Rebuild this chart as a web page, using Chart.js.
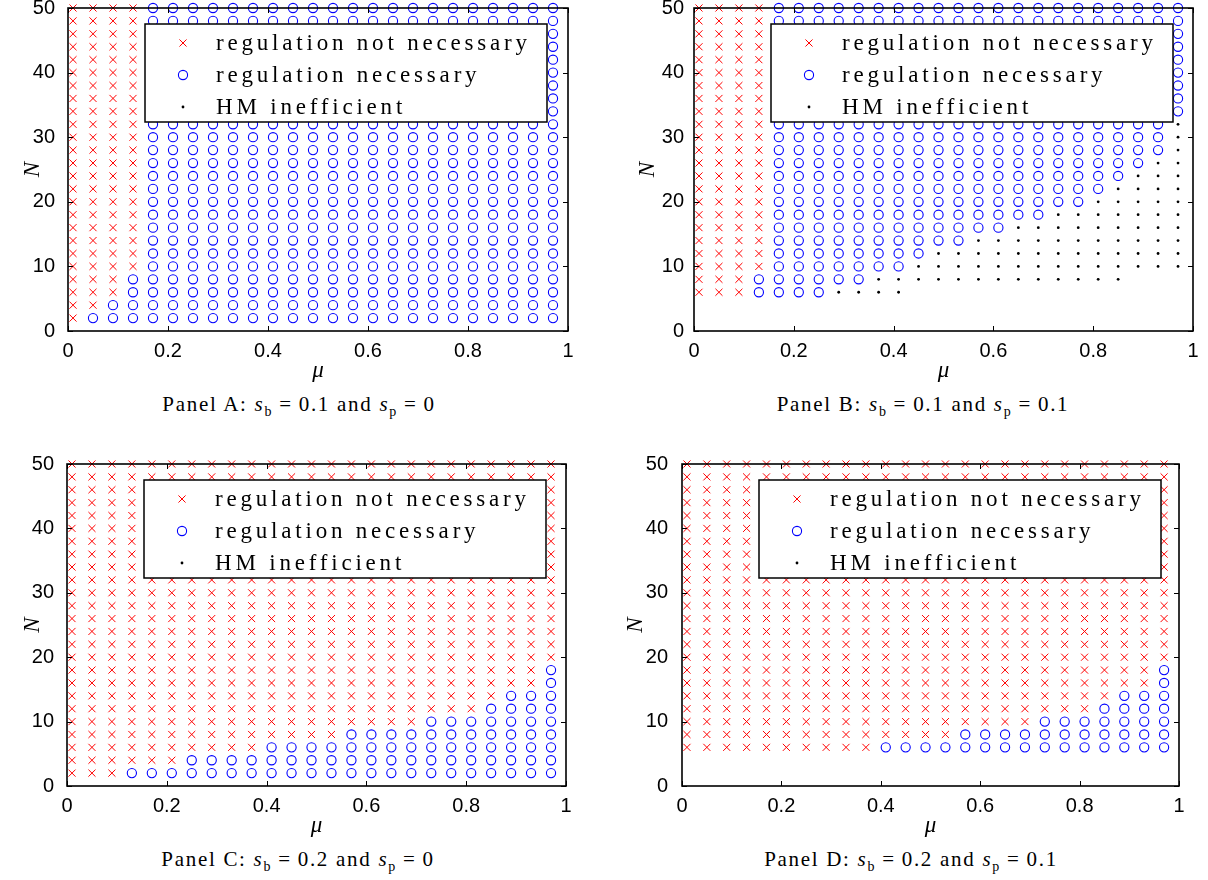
<!DOCTYPE html>
<html>
<head>
<meta charset="utf-8">
<script src="https://cdn.jsdelivr.net/npm/chart.js@4.4.1/dist/chart.umd.min.js"></script>
<style>
  body { margin: 0; background: #fff; width: 1208px; height: 880px; position: relative; overflow: hidden; }
  .panel { position: absolute; }
  .caption { position: absolute; font-family: 'Liberation Serif', serif; font-size: 21px; color: #000;
             transform: translateX(-50%); white-space: nowrap; letter-spacing: 1.7px; line-height: 22px; }
  .caption sub { font-size: 14px; line-height: 0; }
  .caption .eq { margin: 0 6px; }
</style>
</head>
<body>
<div class="panel" id="wrap-a"><canvas id="chart-a"></canvas></div>
<div class="panel" id="wrap-b"><canvas id="chart-b"></canvas></div>
<div class="panel" id="wrap-c"><canvas id="chart-c"></canvas></div>
<div class="panel" id="wrap-d"><canvas id="chart-d"></canvas></div>
<div class="caption" style="left:299px;top:393px">Panel A: <i>s</i><sub>b</sub><span class="eq">=</span>0.1 and <i>s</i><sub>p</sub><span class="eq">=</span>0</div>
<div class="caption" style="left:923px;top:393px">Panel B: <i>s</i><sub>b</sub><span class="eq">=</span>0.1 and <i>s</i><sub>p</sub><span class="eq">=</span>0.1</div>
<div class="caption" style="left:298px;top:848px">Panel C: <i>s</i><sub>b</sub><span class="eq">=</span>0.2 and <i>s</i><sub>p</sub><span class="eq">=</span>0</div>
<div class="caption" style="left:911px;top:848px">Panel D: <i>s</i><sub>b</sub><span class="eq">=</span>0.2 and <i>s</i><sub>p</sub><span class="eq">=</span>0.1</div>
<script>
// grid of mu values (columns) and N runs 2..50 in steps of 2
const MU = [0.01, 0.05, 0.09, 0.13, 0.17, 0.21, 0.25, 0.29, 0.33, 0.37, 0.41, 0.45, 0.49,
            0.53, 0.57, 0.61, 0.65, 0.69, 0.73, 0.77, 0.81, 0.85, 0.89, 0.93, 0.97];
const N_MAX = 50;
const N_STEP = 2;
const X_TICKS = [0, 0.2, 0.4, 0.6, 0.8, 1];
const Y_TICKS = [0, 10, 20, 30, 40, 50];
const LEGEND_LABELS = ['regulation not necessary', 'regulation necessary', 'HM inefficient'];

// per column: lowest N computed, highest N that is HM inefficient, highest N where regulation is necessary
// (everything above the last run up to N_MAX is "regulation not necessary")

// Panel A: s_b = 0.1, s_p = 0
const A_LOW  = [2, 2, 2, 2, 2, 2, 2, 2, 2, 2, 2, 2, 2, 2, 2, 2, 2, 2, 2, 2, 2, 2, 2, 2, 2];
const A_HM   = [0, 0, 0, 0, 0, 0, 0, 0, 0, 0, 0, 0, 0, 0, 0, 0, 0, 0, 0, 0, 0, 0, 0, 0, 0];
const A_REG  = [0, 2, 4, 8, 50, 50, 50, 50, 50, 50, 50, 50, 50, 50, 50, 50, 50, 50, 50, 50, 50, 50, 50, 50, 50];

// Panel B: s_b = 0.1, s_p = 0.1
const B_LOW  = [6, 6, 6, 6, 6, 6, 6, 6, 6, 6, 6, 8, 8, 8, 8, 8, 8, 8, 8, 8, 8, 8, 10, 10, 10];
const B_HM   = [4, 4, 4, 4, 4, 4, 4, 6, 6, 8, 8, 10, 12, 12, 14, 14, 16, 16, 18, 18, 20, 22, 24, 26, 32];
const B_REG  = [4, 4, 4, 8, 50, 50, 50, 50, 50, 50, 50, 50, 50, 50, 50, 50, 50, 50, 50, 50, 50, 50, 50, 50, 50];

// Panel C: s_b = 0.2, s_p = 0
const C_LOW  = [2, 2, 2, 2, 2, 2, 2, 2, 2, 2, 2, 2, 2, 2, 2, 2, 2, 2, 2, 2, 2, 2, 2, 2, 2];
const C_HM   = [0, 0, 0, 0, 0, 0, 0, 0, 0, 0, 0, 0, 0, 0, 0, 0, 0, 0, 0, 0, 0, 0, 0, 0, 0];
const C_REG  = [0, 0, 0, 2, 2, 2, 4, 4, 4, 4, 6, 6, 6, 6, 8, 8, 8, 8, 10, 10, 10, 12, 14, 14, 18];

// Panel D: s_b = 0.2, s_p = 0.1
const D_LOW  = [6, 6, 6, 6, 6, 6, 6, 6, 6, 6, 6, 6, 6, 6, 6, 6, 6, 6, 6, 6, 6, 6, 6, 6, 6];
const D_HM   = [4, 4, 4, 4, 4, 4, 4, 4, 4, 4, 4, 4, 4, 4, 4, 4, 4, 4, 4, 4, 4, 4, 4, 4, 4];
const D_REG  = [4, 4, 4, 4, 4, 4, 4, 4, 4, 4, 6, 6, 6, 6, 8, 8, 8, 8, 10, 10, 10, 12, 14, 14, 18];

const Y_AXIS_W = 58;
const X_AXIS_H = 60;
const PAD = 20;

function splitPoints(low, hm, reg) {
  const notNec = [], nec = [], ineff = [];
  MU.forEach((mu, i) => {
    for (let n = low[i]; n <= N_MAX; n += N_STEP) {
      const p = { x: mu, y: n };
      if (n <= hm[i]) ineff.push(p);
      else if (n <= reg[i]) nec.push(p);
      else notNec.push(p);
    }
  });
  return { notNec, nec, ineff };
}

const markerStyles = [
  { pointStyle: 'crossRot', radius: 5, borderColor: '#ff0000', backgroundColor: '#ff0000', borderWidth: 1 },
  { pointStyle: 'circle', radius: 4.6, borderColor: '#0000ff', backgroundColor: 'rgba(0,0,0,0)', borderWidth: 1.1 },
  { pointStyle: 'circle', radius: 1.4, borderColor: '#000', backgroundColor: '#000', borderWidth: 0 }
];

// frame with inward ticks, axis titles and boxed legend
const framePlugin = {
  id: 'frame',
  afterDatasetsDraw(chart, args, opts) {
    const { ctx, chartArea: a, scales: { x, y } } = chart;
    ctx.save();
    ctx.strokeStyle = '#000';
    ctx.lineWidth = 1;
    ctx.beginPath();
    X_TICKS.forEach(v => {
      const px = Math.round(x.getPixelForValue(v)) + 0.5;
      ctx.moveTo(px, a.bottom); ctx.lineTo(px, a.bottom - 5);
      ctx.moveTo(px, a.top); ctx.lineTo(px, a.top + 5);
    });
    Y_TICKS.forEach(v => {
      const py = Math.round(y.getPixelForValue(v)) + 0.5;
      ctx.moveTo(a.left, py); ctx.lineTo(a.left + 5, py);
      ctx.moveTo(a.right, py); ctx.lineTo(a.right - 5, py);
    });
    ctx.stroke();
    ctx.lineWidth = 1.6;
    ctx.strokeRect(a.left, a.top, a.right - a.left, a.bottom - a.top);

    // axis titles
    ctx.fillStyle = '#000';
    ctx.font = 'italic 23px "Liberation Serif"';
    ctx.textAlign = 'center';
    ctx.textBaseline = 'middle';
    ctx.fillText('\u03bc', (a.left + a.right) / 2, a.bottom + 40);
    ctx.save();
    ctx.translate(a.left - opts.nTitleGap, (a.top + a.bottom) / 2);
    ctx.rotate(-Math.PI / 2);
    ctx.fillText('N', 0, 0);
    ctx.restore();

    // legend box
    const lx = a.left + 77, ly = a.top + 16, lw = 402, lh = 98;
    ctx.fillStyle = '#fff';
    ctx.fillRect(lx, ly, lw, lh);
    ctx.lineWidth = 1.5;
    ctx.strokeStyle = '#000';
    ctx.strokeRect(lx, ly, lw, lh);
    ctx.font = '23px "Liberation Serif"';
    ctx.textAlign = 'left';
    ctx.letterSpacing = '3.8px';
    LEGEND_LABELS.forEach((label, i) => {
      const rowY = ly + 19 + i * 32;
      const st = markerStyles[i];
      ctx.strokeStyle = st.borderColor;
      ctx.fillStyle = st.backgroundColor;
      ctx.lineWidth = st.borderWidth;
      Chart.helpers.drawPoint(ctx, { pointStyle: st.pointStyle, radius: st.radius, borderWidth: st.borderWidth, rotation: 0 }, lx + 38, rowY);
      ctx.fillStyle = '#000';
      ctx.fillText(label, lx + 71, rowY + 1);
    });
    ctx.restore();
  }
};

function makePanel(key, area, low, hm, reg, labelGap, nTitleGap) {
  const wrap = document.getElementById('wrap-' + key);
  const w = (area.right - area.left) + Y_AXIS_W + PAD;
  const h = (area.bottom - area.top) + PAD + X_AXIS_H;
  wrap.style.left = (area.left - Y_AXIS_W) + 'px';
  wrap.style.top = (area.top - PAD) + 'px';
  wrap.style.width = w + 'px';
  wrap.style.height = h + 'px';

  const pts = splitPoints(low, hm, reg);
  const sets = [pts.notNec, pts.nec, pts.ineff].map((data, i) => ({
    label: LEGEND_LABELS[i],
    data,
    showLine: false,
    clip: false,
    pointStyle: markerStyles[i].pointStyle,
    pointRadius: markerStyles[i].radius,
    pointBorderColor: markerStyles[i].borderColor,
    pointBackgroundColor: markerStyles[i].backgroundColor,
    pointBorderWidth: markerStyles[i].borderWidth
  }));

  const tickFont = { family: 'Liberation Sans', size: 20 };
  return new Chart(document.getElementById('chart-' + key), {
    type: 'scatter',
    data: { datasets: sets },
    options: {
      responsive: true, maintainAspectRatio: false,
      animation: false, events: [],
      layout: { padding: { top: PAD, right: PAD, left: 0, bottom: 0 } },
      plugins: { legend: { display: false }, tooltip: { enabled: false }, frame: { nTitleGap } },
      scales: {
        x: {
          type: 'linear', min: 0, max: 1,
          grid: { display: false }, border: { display: false },
          afterBuildTicks: s => { s.ticks = X_TICKS.map(v => ({ value: v })); },
          afterFit: s => { s.height = X_AXIS_H; },
          ticks: { color: '#000', font: tickFont, padding: 0, autoSkip: false, maxRotation: 0,
                   callback: v => String(v) }
        },
        y: {
          type: 'linear', min: 0, max: N_MAX,
          grid: { display: false }, border: { display: false },
          afterBuildTicks: s => { s.ticks = Y_TICKS.map(v => ({ value: v })); },
          afterFit: s => { s.width = Y_AXIS_W; },
          ticks: { color: '#000', font: tickFont, padding: labelGap }
        }
      }
    },
    plugins: [framePlugin]
  });
}

makePanel('a', { left: 68, top: 8, right: 568, bottom: 331 }, A_LOW, A_HM, A_REG, 5, 35);
makePanel('b', { left: 694, top: 8, right: 1193, bottom: 331 }, B_LOW, B_HM, B_REG, 2, 46);
makePanel('c', { left: 67, top: 464, right: 566, bottom: 786 }, C_LOW, C_HM, C_REG, 5, 34);
makePanel('d', { left: 682, top: 464, right: 1179, bottom: 786 }, D_LOW, D_HM, D_REG, 6, 46);
</script>
</body>
</html>
